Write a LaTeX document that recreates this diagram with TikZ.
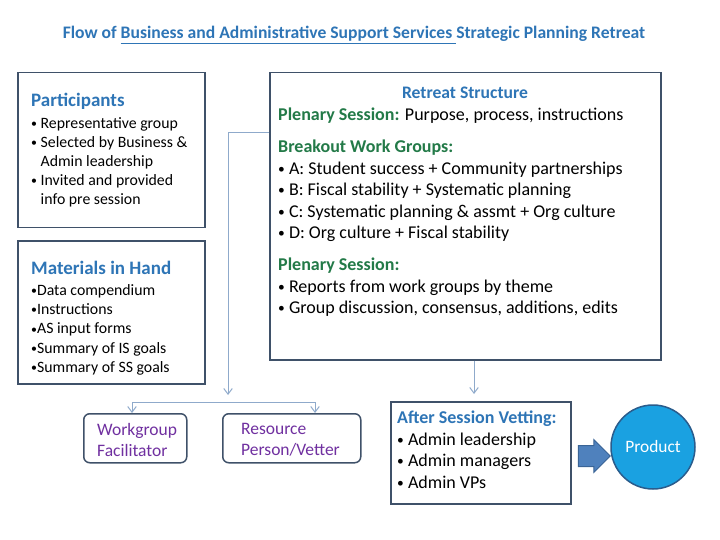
\documentclass[tikz,border=0pt]{standalone}
\usepackage{fontspec}
\setmainfont{Carlito}
\usetikzlibrary{arrows.meta, positioning, shapes.arrows, calc}
\definecolor{titleblue}{HTML}{2E75B6}
\definecolor{headgreen}{HTML}{237A48}
\definecolor{boxedge}{HTML}{3F5169}
\definecolor{linkblue}{HTML}{8FAACB}
\definecolor{rolepurple}{HTML}{7030A0}
\definecolor{arrowfill}{HTML}{4F81BD}
\definecolor{arrowedge}{HTML}{3A6496}
\definecolor{prodfill}{HTML}{1AA1E1}
\definecolor{prodedge}{HTML}{2A5C8C}
\newcommand{\smalldot}{\raisebox{0.12ex}{\scalebox{0.75}{\textbullet}}}
\newcommand{\blt}{\makebox[0.6em][l]{\smalldot}}
\newcommand{\bsp}{\hspace*{0.6em}}

\begin{document}
\begin{tikzpicture}[x=1pt, y=-1pt,
    panel/.style={draw=boxedge, line width=1.5pt, fill=white, inner sep=0pt, anchor=north west},
    role/.style={draw=boxedge, line width=1.5pt, rounded corners=6pt, fill=white, inner sep=0pt, anchor=north west, minimum height=49pt},
    body/.style={anchor=north west, inner sep=0pt, align=left},
    link/.style={draw=linkblue, line width=1pt},
    tip/.style={link, -{Straight Barb[length=2mm, width=3mm]}},
]
\useasboundingbox (0,0) rectangle (720,540);

% title
\node[anchor=base, inner sep=0pt, font=\fontsize{17.6}{20}\selectfont\bfseries, text=titleblue] (title) at (354,39)
  {Flow of \underline{Business and Administrative Support Services\ }Strategic Planning Retreat};

% left column
\node[panel, minimum width=187pt, minimum height=155pt] (part) at (17,72) {};
\node[body, font=\fontsize{15.8}{19}\selectfont] (parttext) at (31,93)
  {{\fontsize{19}{19}\selectfont\bfseries\color{titleblue}Participants}\\[3pt]
   \blt Representative group\\
   \blt Selected by Business \&\\
   \bsp Admin leadership\\
   \blt Invited and provided\\
   \bsp info pre session};

\node[panel, minimum width=187pt, minimum height=143pt] (mat) at (17,240) {};
\node[body, font=\fontsize{15.8}{19.3}\selectfont] (mattext) at (31,261)
  {{\fontsize{19}{19}\selectfont\bfseries\color{titleblue}Materials in Hand}\\[1.5pt]
   \smalldot Data compendium\\
   \smalldot Instructions\\
   \smalldot AS input forms\\
   \smalldot Summary of IS goals\\
   \smalldot Summary of SS goals};

% retreat structure
\node[panel, minimum width=391pt, minimum height=287pt] (retreat) at (269,72) {};
\node[anchor=base, inner sep=0pt, font=\fontsize{17.6}{20}\selectfont\bfseries, text=titleblue] (rettitle) at (465,99) {Retreat Structure};
\node[body, font=\fontsize{18}{21.5}\selectfont] (rettext) at (278,108)
  {{\bfseries\color{headgreen}Plenary Session:} Purpose, process, instructions\\[10.5pt]
   {\bfseries\color{headgreen}Breakout Work Groups:}\\
   \blt A: Student success + Community partnerships\\
   \blt B: Fiscal stability + Systematic planning\\
   \blt C: Systematic planning \& assmt + Org culture\\
   \blt D: Org culture + Fiscal stability\\[10.5pt]
   {\bfseries\color{headgreen}Plenary Session:}\\
   \blt Reports from work groups by theme\\
   \blt Group discussion, consensus, additions, edits};

% roles
\node[role, minimum width=103pt] (facil) at (83,413) {};
\node[body, font=\fontsize{17.5}{21}\selectfont, text=rolepurple] (faciltext) at (97,423) {Workgroup\\Facilitator};
\node[role, minimum width=138pt] (vetter) at (222,413) {};
\node[body, font=\fontsize{17.5}{21}\selectfont, text=rolepurple] (vettertext) at (241,423) {Resource\\Person/Vetter};

% vetting and product
\node[panel, minimum width=180pt, minimum height=102pt] (vet) at (390,401) {};
\node[body, font=\fontsize{18}{21.5}\selectfont] (vettext) at (397,411)
  {{\bfseries\color{titleblue}After Session Vetting:}\\
   \blt Admin leadership\\
   \blt Admin managers\\
   \blt Admin VPs};

\node[single arrow, draw=arrowedge, fill=arrowfill, line width=1pt, minimum height=32pt, minimum width=32pt,
      single arrow head extend=6pt, inner xsep=0pt, inner ysep=10pt] (push) at (589,456) {};
\node[circle, draw=prodedge, fill=prodfill, line width=1.5pt, minimum size=84pt, inner sep=0pt,
      font=\fontsize{17.4}{20}\selectfont, text=white] (prod) at (653,447) {Product};

% connectors
\coordinate (bend) at (228,133);
\coordinate (split) at (228,395);
\coordinate (leftend) at (132,402);
\coordinate (rightend) at (315,402);
\coordinate (vetin) at (474,394);
\draw[tip] (retreat.west |- bend) -- (bend) -- (split);
\draw[link] (leftend) -- (rightend);
\draw[tip] (leftend) -- (leftend |- facil.north);
\draw[tip] (rightend) -- (rightend |- vetter.north);
\draw[tip] (retreat.south -| vetin) -- (vetin);
\end{tikzpicture}
\end{document}
